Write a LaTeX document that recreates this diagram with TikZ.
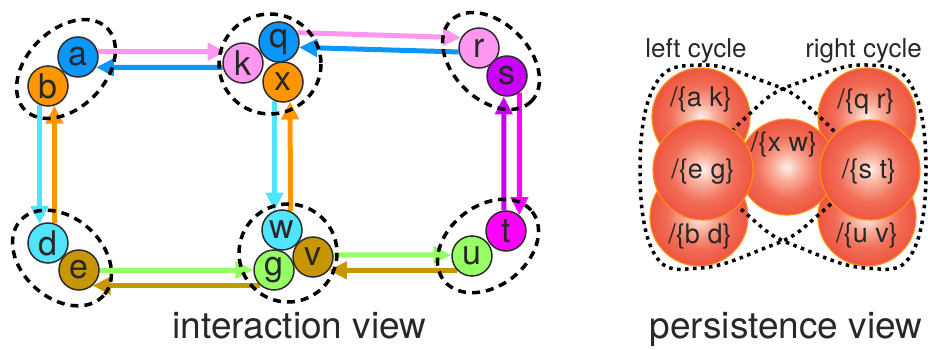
\documentclass[tikz,border=0pt]{standalone}
\usepackage{fontspec}
\setmainfont{TeX Gyre Heros}
\usetikzlibrary{arrows.meta,backgrounds}
\definecolor{cBlue}{RGB}{10,150,250}
\definecolor{cOrange}{RGB}{255,150,0}
\definecolor{cPink}{RGB}{255,150,240}
\definecolor{cPurple}{RGB}{200,0,250}
\definecolor{cMagenta}{RGB}{255,0,255}
\definecolor{cCyan}{RGB}{80,228,255}
\definecolor{cBrown}{RGB}{200,150,0}
\definecolor{cGreen}{RGB}{150,255,100}
\definecolor{cText}{RGB}{40,40,40}
\definecolor{cEdge}{RGB}{45,45,45}
\definecolor{sphA}{RGB}{254,240,234}
\definecolor{sphB}{RGB}{249,175,156}
\definecolor{sphC}{RGB}{242,110,88}
\definecolor{sphD}{RGB}{236,74,54}
\definecolor{sphE}{RGB}{228,50,35}
\definecolor{sphRim}{RGB}{255,140,20}
\pgfdeclareradialshading{sphereshade}{\pgfpoint{0bp}{0bp}}{color(0bp)=(sphA); color(7bp)=(sphB); color(16bp)=(sphC); color(29bp)=(sphD); color(50bp)=(sphE)}
\tikzset{
 vtx/.style={circle, draw=cEdge, line width=1.5pt, minimum size=40pt, inner sep=0pt, text=cText, font=\fontsize{34}{36}\selectfont},
 arr/.style={line width=5pt, -{Triangle[length=18pt,width=17pt]}},
 grp/.style={draw=black, line width=3.5pt, dash pattern=on 8pt off 6pt},
 sphere/.style={circle, shading=sphereshade, draw=sphRim, line width=1.2pt, inner sep=0pt},
 sphlbl/.style={text=cText, font=\fontsize{27}{29}\selectfont, inner sep=0pt},
 cyc/.style={draw=black, line width=3.5pt, dash pattern=on 3.5pt off 4.5pt},
 ttl/.style={text=cText, font=\fontsize{37}{40}\selectfont, anchor=base, inner sep=0pt},
 cyclbl/.style={text=cText, font=\fontsize{26}{28}\selectfont, anchor=base, inner sep=0pt}
}
\begin{document}
\begin{tikzpicture}[x=1pt,y=-1pt]
\useasboundingbox (0,0) rectangle (928,350);
% ---------- interaction view: vertices
\node[vtx, fill=cOrange] (b) at (48,86) {b};
\node[vtx, fill=cBlue] (a) at (78,57) {a};
\node[vtx, fill=cPink] (k) at (243,63) {k};
\node[vtx, fill=cBlue] (q) at (279,42) {q};
\node[vtx, fill=cOrange] (x) at (283,82) {x};
\node[vtx, fill=cPink] (r) at (479,48) {r};
\node[vtx, fill=cPurple] (s) at (507,76) {s};
\node[vtx, fill=cCyan] (d) at (48,243) {d};
\node[vtx, fill=cBrown] (e) at (79,270) {e};
\node[vtx, fill=cCyan] (w) at (282,230) {w};
\node[vtx, fill=cGreen] (g) at (274,270) {g};
\node[vtx, fill=cBrown] (v) at (313,257) {v};
\node[vtx, fill=cGreen] (u) at (472,256) {u};
\node[vtx, fill=cMagenta] (t) at (506,231) {t};
\begin{pgfonlayer}{background}
% arrows
\draw[arr, cPink] (a.15) -- (k.147);
\draw[arr, cBlue] (k.192) -- (a.330);
\draw[arr, cPink] (q.27) -- (r.150);
\draw[arr, cBlue] (r.191) -- (q.345);
\draw[arr, cCyan] (b.246) -- (d.114);
\draw[arr, cOrange] (d.72) -- (b.288);
\draw[arr, cCyan] (x.246) -- (w.111);
\draw[arr, cOrange] (w.66) -- (x.290);
\draw[arr, cPurple] (t.96) -- (s.261);
\draw[arr, cMagenta] (s.307) -- (t.50);
\draw[arr, cGreen] (e.east) -- (g.west);
\draw[arr, cBrown] (g.229) -- (e.311);
\draw[arr, cGreen] (v.6) -- (u.177);
\draw[arr, cBrown] (u.224) -- (v.320);
% groups
\draw[grp, rotate around={45:(66,69)}] (66,69) ellipse [x radius=58, y radius=39];
\draw[grp] (270,64) ellipse [x radius=51, y radius=50];
\draw[grp, rotate around={-45:(491,61)}] (491,61) ellipse [x radius=57, y radius=38];
\draw[grp, rotate around={-42:(62,258)}] (62,258) ellipse [x radius=56, y radius=40];
\draw[grp] (288,253) ellipse [x radius=49, y radius=49];
\draw[grp, rotate around={38:(488,246)}] (488,246) ellipse [x radius=56, y radius=40];
\end{pgfonlayer}
% ---------- persistence view
\node[sphere, minimum size=98pt] (ak) at (701,117) {};
\node[sphere, minimum size=98pt] (bd) at (699,217) {};
\node[sphere, minimum size=98pt] (qr) at (867,117) {};
\node[sphere, minimum size=98pt] (uv) at (867,217) {};
\node[sphere, minimum size=96pt] (xw) at (787,167) {};
\draw[cyc] plot[smooth cycle, tension=0.7] coordinates {(700,65) (760,80) (808,106) (852,167) (808,224) (760,250) (700,268) (655,255) (640,170) (655,85)};
\draw[cyc] plot[smooth cycle, tension=0.7] coordinates {(866,65) (806,80) (758,106) (714,167) (758,224) (806,250) (866,268) (911,255) (926,170) (911,85)};
\node[sphere, minimum size=100pt] (eg) at (703,170) {};
\node[sphere, minimum size=100pt] (st) at (870,170) {};
\node[sphlbl] (lak) at (701,100) {/\{a k\}};
\node[sphlbl] (leg) at (703,172) {/\{e g\}};
\node[sphlbl] (lbd) at (700,237) {/\{b d\}};
\node[sphlbl] (lxw) at (784,145) {/\{x w\}};
\node[sphlbl] (lqr) at (866,102) {/\{q r\}};
\node[sphlbl] (lst) at (869,172) {/\{s t\}};
\node[sphlbl] (luv) at (867,236) {/\{u v\}};
\node[cyclbl] (lcl) at (696,58) {left cycle};
\node[cyclbl] (lcr) at (863.5,58) {right cycle};
% ---------- titles
\node[ttl] (ttlA) at (299.5,338) {interaction view};
\node[ttl] (ttlB) at (786,338) {persistence view};
\end{tikzpicture}
\end{document}
